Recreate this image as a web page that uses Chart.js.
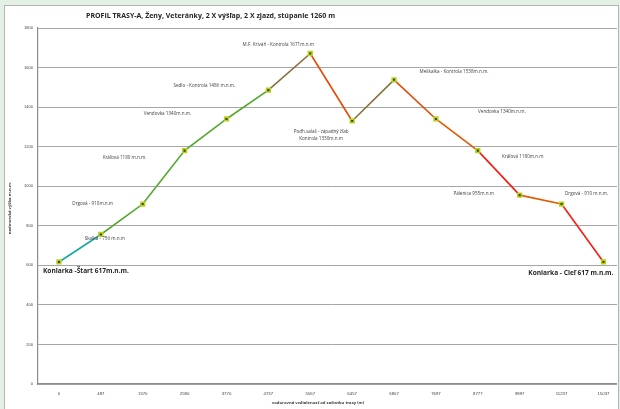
<!DOCTYPE html>
<html lang="sk">
<head>
<meta charset="UTF-8">
<title>Profil trasy A</title>
<script src="https://cdn.jsdelivr.net/npm/chart.js"></script>
<style>
    html, body { margin: 0; padding: 0; }
    body { width: 620px; height: 409px; background: #e2f0e6; position: relative; overflow: hidden; }
    .panel {
        position: absolute; left: 4px; top: 5px; width: 613px; height: 403px;
        background: #fff; border: 1px solid #b4b4b4;
    }
    #wrap { position: absolute; left: 0; top: 0; width: 617px; height: 408px; overflow: hidden; }
</style>
</head>
<body>
<div class="panel"></div>
<div id="wrap"><canvas id="profil" width="630" height="409"></canvas></div>
<script>
// data
const distances = ['0', '487', '1370', '2580', '3770', '4737', '5567', '6457', '6807', '7697', '8777', '9897', '11237', '15037'];
const altitudes = [617, 756, 910, 1180, 1340, 1486, 1671, 1330, 1538, 1340, 1180, 955, 910, 617];
const pointNames = [
    'Koniarka -Štart 617m.n.m.',
    'Skalka - 756 m.n.m',
    'Drgová - 910m.n.m',
    'Kráľová 1180 m.n.m.',
    'Vendovka 1340m.n.m.',
    'Sedlo - Kontrola 1486 m.n.m.',
    'M.F. Kriváň - Kontrola 1671m.n.m',
    'Podh.salaš - západný žľab\nKontrola 1330m.n.m',
    'Meškalka - Kontrola 1538m.n.m.',
    'Vendovka 1340m.n.m.',
    'Kráľová 1180m.n.m',
    'Pálenica 955m.n.m',
    'Drgová - 910 m.n.m.',
    'Koniarka - Cieľ 617 m.n.m.'
];
const yTicks = [0, 200, 400, 600, 800, 1000, 1200, 1400, 1600, 1800];

const segColors = ['#16a9a4', '#52a82a', '#52a82a', '#52a82a', '#52a82a', '#86703a',
                   '#e64a00', '#86703a', '#e64a00', '#e35800', '#f41c10', '#e35800', '#f41c10'];

// label offsets from each point (dx, dy), alignment, bold
const labelPlace = [
    [-16, 9, 'left', true], [4, 4, 'center', false], [-50, 0, 'center', false], [-60, 7, 'center', false],
    [-59, -5, 'center', false], [-64, -4, 'center', false], [-32, -9, 'center', false], [-31, 11, 'center', false],
    [60, -8, 'center', false], [66, -7, 'center', false], [45, 6, 'center', false], [-46, -1, 'center', false],
    [25, -10, 'center', false], [10, 11, 'right', true]
];

const textPlugin = {
    id: 'texts',
    afterDatasetsDraw(chart) {
        const ctx = chart.ctx;
        const meta = chart.getDatasetMeta(0);
        ctx.save();
        ctx.textBaseline = 'middle';
        meta.data.forEach(function (pt, i) {
            const p = labelPlace[i];
            ctx.fillStyle = p[3] ? '#262626' : '#404040';
            ctx.font = p[3] ? 'bold 6.6px "Open Sans", sans-serif' : '4.6px "Open Sans", sans-serif';
            ctx.textAlign = p[2];
            const lines = pointNames[i].split('\n');
            lines.forEach(function (ln, k) {
                ctx.fillText(ln, pt.x + p[0], pt.y + p[1] + k * 7);
            });
        });
        // title
        ctx.fillStyle = '#262626';
        ctx.font = 'bold 7px "Open Sans", sans-serif';
        ctx.textAlign = 'left';
        ctx.fillText('PROFIL TRASY-A, Ženy, Veteránky, 2 X výšľap, 2 X zjazd, stúpanie 1260 m', 86, 16);
        // axis titles
        ctx.font = 'bold 4.2px "Open Sans", sans-serif';
        ctx.fillStyle = '#404040';
        ctx.textAlign = 'center';
        ctx.fillText('vodorovná vzdialenosť od začiatku trasy (m)', 318, 403);
        ctx.translate(10, 208);
        ctx.rotate(-Math.PI / 2);
        ctx.fillText('nadmorská výška m.n.m.', 0, 0);
        ctx.restore();
    }
};

new Chart(document.getElementById('profil'), {
    type: 'line',
    data: {
        labels: distances,
        datasets: [{
            data: altitudes,
            borderWidth: 1.6,
            borderColor: '#52a82a',
            segment: {
                borderColor: function (c) { return segColors[c.p0DataIndex]; }
            },
            pointStyle: 'rect',
            pointRadius: 2.6,
            pointBorderWidth: 1.6,
            pointBorderColor: '#b9cf1c',
            pointBackgroundColor: '#3b4800',
            tension: 0
        }]
    },
    options: {
        responsive: false,
        animation: false,
        devicePixelRatio: 1,
        layout: { padding: { left: 0, right: 2, top: 28, bottom: 0 } },
        plugins: { legend: { display: false }, tooltip: { enabled: false } },
        scales: {
            x: {
                offset: true,
                grid: { display: false, drawTicks: false },
                border: { color: '#8c8c8c', width: 1.2 },
                ticks: { color: '#404040', font: { size: 4.3 }, padding: 7, maxRotation: 0, autoSkip: false },
                afterFit: function (s) { s.height = 25; }
            },
            y: {
                min: 0, max: 1800,
                afterBuildTicks: function (s) { s.ticks = yTicks.map(function (v) { return { value: v }; }); },
                grid: { color: '#a6a6a6', lineWidth: 1, drawTicks: false },
                border: { color: '#8c8c8c', width: 1.2 },
                ticks: { color: '#404040', font: { size: 4 }, padding: 5, callback: function (v) { return String(v); } },
                afterFit: function (s) { s.width = 38; }
            }
        }
    },
    plugins: [textPlugin]
});
</script>
</body>
</html>
